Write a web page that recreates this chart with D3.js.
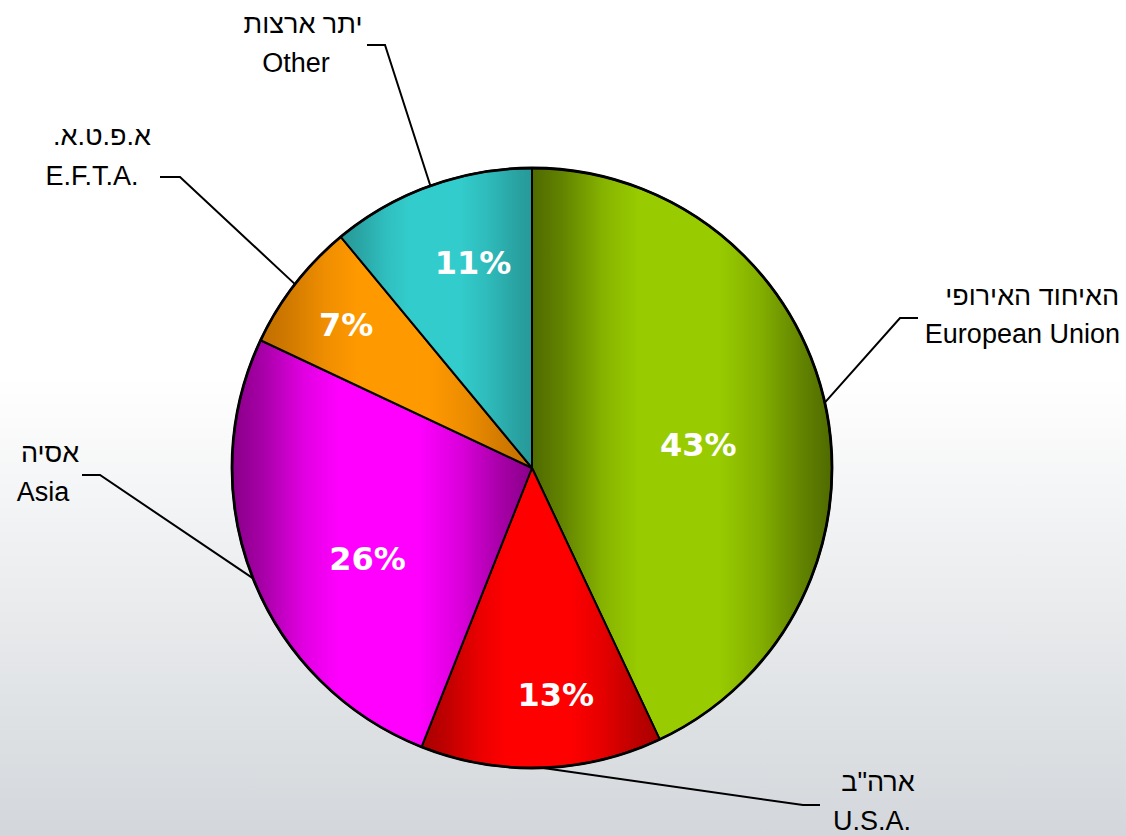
<!DOCTYPE html>
<html>
<head>
<meta charset="utf-8">
<script src="https://cdn.jsdelivr.net/npm/d3@7/dist/d3.min.js"></script>
<style>
  html, body { margin: 0; padding: 0; background: #fff; }
  svg { display: block; }
</style>
</head>
<body>
<svg id="chart" width="1126" height="836"></svg>
<script>
// ---------------- data ----------------
const categoriesHe = ["האיחוד האירופי", "ארה\"ב", "אסיה", "א.פ.ט.א.", "יתר ארצות"];
const categoriesEn = ["European Union", "U.S.A.", "Asia", "E.F.T.A.", "Other"];
const shares = [43, 13, 26, 7, 11];
const percentLabels = ["43%", "13%", "26%", "7%", "11%"];

// ---------------- styles / layout ----------------
const brightColors = ["#99cc00", "#ff0000", "#ff00ff", "#ff9900", "#33cccc"];
const darkColors   = ["#4f6a00", "#a80000", "#880088", "#c06e00", "#279898"];
// percent label placement: [radius, angle offset in degrees] relative to slice middle
const pctLayout = [[168, 4.4], [228, -4.2], [188, -7.3], [235, -0.1], [214, 3.8]];
// category label layout: elbow start x, elbow end x, elbow y, he [x,y,anchor], en [x,y,anchor]
const labelLayout = [
  { ex0: 918, ex1: 900, ey: 318, he: [1119, 305, "end"],   en: [1120, 343, "end"] },
  { ex0: 820, ex1: 803, ey: 805, he: [878, 791, "middle"], en: [872, 830, "middle"] },
  { ex0: 82,  ex1: 100, ey: 475, he: [50, 462, "middle"],  en: [43, 501, "middle"] },
  { ex0: 160, ex1: 180, ey: 177, he: [102, 145, "middle"], en: [92, 185, "middle"] },
  { ex0: 367, ex1: 385, ey: 45,  he: [303, 33, "middle"],  en: [296, 72, "middle"] }
];

const W = 1126, H = 836;
const cx = 532, cy = 468, R = 300;

const svg = d3.select("#chart");
const defs = svg.append("defs");

// background gradient
const bg = defs.append("linearGradient").attr("id", "bg")
  .attr("x1", 0).attr("y1", 0).attr("x2", 0).attr("y2", 1);
bg.append("stop").attr("offset", 0).attr("stop-color", "#ffffff");
bg.append("stop").attr("offset", 0.45).attr("stop-color", "#ffffff");
bg.append("stop").attr("offset", 1).attr("stop-color", "#d3d7db");
svg.append("rect").attr("width", W).attr("height", H).attr("fill", "url(#bg)");

// slice gradients
shares.forEach((d, i) => {
  const g = defs.append("linearGradient").attr("id", "g" + i)
    .attr("x1", 0).attr("y1", 0).attr("x2", 1).attr("y2", 0);
  const mix = d3.interpolateRgb(darkColors[i], brightColors[i]);
  [[0, 0], [0.1, 0.25], [0.24, 0.75], [0.36, 1], [0.62, 1], [0.76, 0.7], [0.9, 0.25], [1, 0]]
    .forEach(([o, t]) => g.append("stop").attr("offset", o).attr("stop-color", mix(t)));
});

const pie = d3.pie().sort(null).value(d => d);
const arcs = pie(shares);
const arc = d3.arc().innerRadius(0).outerRadius(R);

const gPie = svg.append("g").attr("transform", `translate(${cx},${cy})`);

gPie.selectAll("path.slice")
  .data(arcs)
  .join("path")
  .attr("class", "slice")
  .attr("d", arc)
  .attr("fill", (d, i) => `url(#g${i})`)
  .attr("stroke", "#000")
  .attr("stroke-width", 2)
  .attr("stroke-linejoin", "round");

// outer outline
gPie.append("circle").attr("r", R).attr("fill", "none")
  .attr("stroke", "#000").attr("stroke-width", 2.8);

// percent labels
gPie.selectAll("text.pct")
  .data(arcs)
  .join("text")
  .attr("class", "pct")
  .attr("x", (d, i) => {
    const a = (d.startAngle + d.endAngle) / 2 + pctLayout[i][1] * Math.PI / 180;
    return pctLayout[i][0] * Math.sin(a);
  })
  .attr("y", (d, i) => {
    const a = (d.startAngle + d.endAngle) / 2 + pctLayout[i][1] * Math.PI / 180;
    return -pctLayout[i][0] * Math.cos(a);
  })
  .attr("dy", "0.36em")
  .attr("text-anchor", "middle")
  .attr("font-family", "'DejaVu Sans', Verdana, sans-serif")
  .attr("font-weight", "bold")
  .attr("font-size", 32)
  .attr("fill", "#ffffff")
  .text((d, i) => percentLabels[i]);

// leader lines
svg.selectAll("path.leader")
  .data(arcs)
  .join("path")
  .attr("class", "leader")
  .attr("d", (d, i) => {
    const a = (d.startAngle + d.endAngle) / 2;
    const px = cx + R * Math.sin(a), py = cy - R * Math.cos(a);
    const L = labelLayout[i];
    return `M${L.ex0},${L.ey}L${L.ex1},${L.ey}L${px},${py}`;
  })
  .attr("fill", "none")
  .attr("stroke", "#000")
  .attr("stroke-width", 2);

// category labels
const labelFont = "'Liberation Sans', Arial, sans-serif";
svg.selectAll("text.he")
  .data(arcs)
  .join("text")
  .attr("class", "he")
  .attr("x", (d, i) => labelLayout[i].he[0])
  .attr("y", (d, i) => labelLayout[i].he[1])
  .attr("text-anchor", (d, i) => labelLayout[i].he[2] === "end" ? "start" : "middle")
  .attr("direction", "rtl")
  .style("direction", "rtl")
  .style("unicode-bidi", "embed")
  .attr("font-family", labelFont)
  .attr("font-size", 27)
  .attr("fill", "#000")
  .text((d, i) => categoriesHe[i]);

svg.selectAll("text.en")
  .data(arcs)
  .join("text")
  .attr("class", "en")
  .attr("x", (d, i) => labelLayout[i].en[0])
  .attr("y", (d, i) => labelLayout[i].en[1])
  .attr("text-anchor", (d, i) => labelLayout[i].en[2])
  .attr("font-family", labelFont)
  .attr("font-size", 27)
  .attr("fill", "#000")
  .text((d, i) => categoriesEn[i]);
</script>
</body>
</html>
